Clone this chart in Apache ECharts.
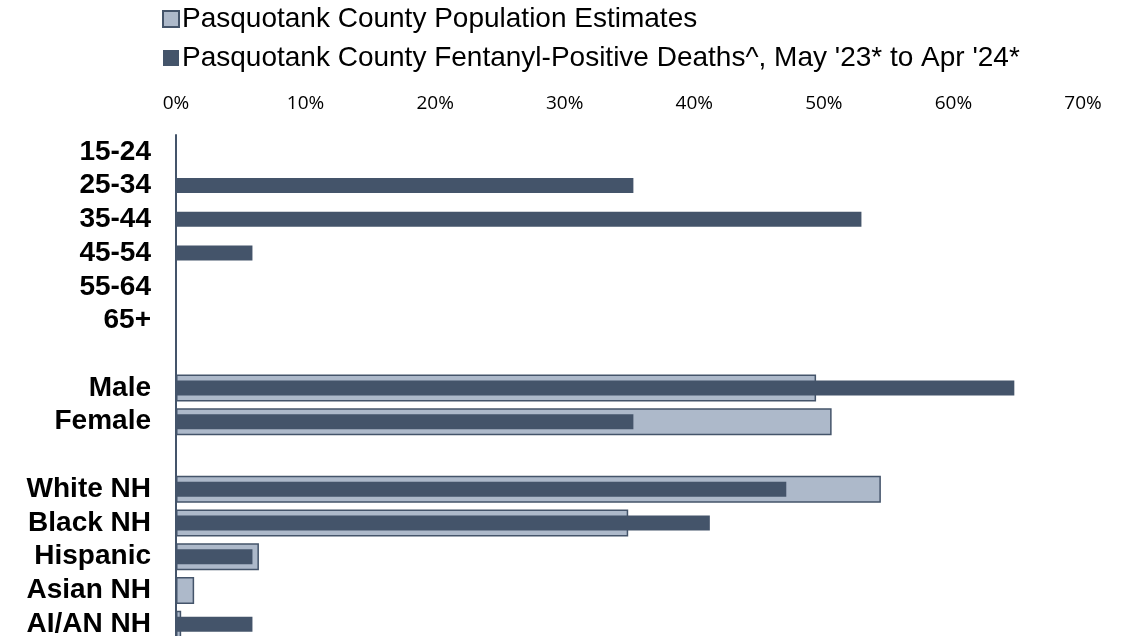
<!DOCTYPE html>
<html>
<head>
<meta charset="utf-8">
<script src="https://cdn.jsdelivr.net/npm/echarts@6/dist/echarts.min.js"></script>
<style>
  html, body { margin: 0; padding: 0; background: #fff; overflow: hidden; }
  /* taller than the window: the last row is cut off at the bottom, as in the original */
  #chart { width: 1131px; height: 660px; }
</style>
</head>
<body>
<div id="chart"></div>
<script>
// categories top to bottom (blank rows separate the groups)
var categories = ['15-24', '25-34', '35-44', '45-54', '55-64', '65+', '', 'Male', 'Female', ' ', 'White NH', 'Black NH', 'Hispanic', 'Asian NH', 'AI/AN NH'];
// percent of county population
var popValues = [null, null, null, null, null, null, null, 49.4, 50.6, null, 54.4, 34.9, 6.4, 1.4, 0.4];
// percent of fentanyl-positive deaths
var deathValues = [0, 35.3, 52.9, 5.9, 0, 0, null, 64.7, 35.3, null, 47.1, 41.2, 5.9, 0, 5.9];
var xTicks = [0, 10, 20, 30, 40, 50, 60, 70];

var chart = echarts.init(document.getElementById('chart'));
chart.setOption({
  animation: false,
  legend: {
    orient: 'vertical',
    left: 157,
    top: 0,
    icon: 'rect',
    itemWidth: 16,
    itemHeight: 16,
    itemGap: 11,
    textStyle: { fontFamily: 'Liberation Sans, Arial', fontSize: 28, color: '#000', padding: [0, 0, 0, -2] },
    data: ['Pasquotank County Population Estimates', "Pasquotank County Fentanyl-Positive Deaths^, May '23* to Apr '24*"]
  },
  grid: {
    left: 176,
    right: 48,
    top: 135,
    height: 506
  },
  xAxis: {
    type: 'value',
    position: 'top',
    min: xTicks[0],
    max: xTicks[xTicks.length - 1],
    interval: 10,
    axisLine: { show: false },
    axisTick: { show: false },
    splitLine: { show: false },
    axisLabel: {
      formatter: '{value}%',
      margin: 22,
      fontFamily: 'Open Sans',
      fontSize: 19,
      color: '#000'
    }
  },
  yAxis: [
    {
      type: 'category',
      inverse: true,
      data: categories,
      axisLine: { show: true, lineStyle: { color: '#44546A', width: 2 } },
      axisTick: { show: false },
      axisLabel: {
        interval: 0,
        margin: 25,
        fontFamily: 'Liberation Sans, Arial',
        fontWeight: 'bold',
        fontSize: 28,
        color: '#000'
      }
    },
    {
      type: 'category',
      inverse: true,
      position: 'left',
      data: categories,
      show: false
    }
  ],
  series: [
    {
      name: 'Pasquotank County Population Estimates',
      type: 'bar',
      yAxisIndex: 0,
      data: popValues,
      barWidth: 27,
      itemStyle: { color: '#ADB9CA', borderColor: '#44546A', borderWidth: 1.5 }
    },
    {
      name: "Pasquotank County Fentanyl-Positive Deaths^, May '23* to Apr '24*",
      type: 'bar',
      yAxisIndex: 1,
      data: deathValues,
      barWidth: 15,
      z: 3,
      itemStyle: { color: '#44546A' }
    }
  ]
});
</script>
</body>
</html>
